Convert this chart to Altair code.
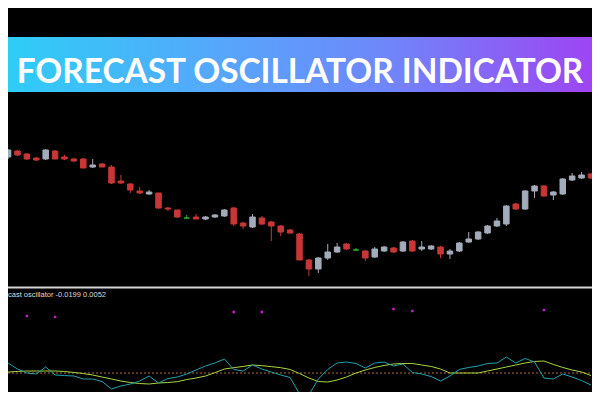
import altair as alt
import pandas as pd

# ---------------- data ----------------
bars = list(range(63))
open_ = [143, 149, 146, 142, 141, 149, 143, 141, 141, 133, 136, 133, 119, 116, 109, 106,
         107, 92, 90, 82, 83, 81, 83, 84, 92, 77, 73, 82, 78, 74, 70, 66,
         40, 31, 42, 48, 56, 50, 49, 43, 49, 52, 49, 59, 51, 51, 53, 46,
         49, 58, 61, 67, 74, 76, 96, 91, 109, 114, 105, 106, 120, 122, 126]
close = [150, 145, 141, 140, 150, 141, 141, 139, 132, 135, 133, 117, 117, 110, 107, 108,
         92, 91, 83, 82, 81, 83, 85, 90, 76, 74, 83, 76, 74, 68, 67, 40,
         31, 42, 48, 53, 51, 50, 42, 51, 53, 48, 58, 49, 53, 54, 46, 49,
         57, 61, 68, 74, 79, 94, 91, 109, 114, 104, 108, 121, 124, 125, 122]
high = [151, 150, 147, 143, 151, 150, 145, 142, 142, 141, 137, 135, 125, 117, 113, 110,
        107, 93, 90, 85, 86, 84, 86, 91, 93, 78, 86, 84, 79, 75, 71, 67,
        41, 43, 56, 57, 57, 52, 50, 53, 54, 53, 59, 60, 59, 55, 54, 51,
        58, 68, 69, 75, 82, 95, 97, 110, 115, 115, 109, 122, 127, 128, 127]
low = [141, 144, 140, 139, 140, 141, 140, 138, 132, 132, 133, 116, 116, 107, 106, 105,
       91, 89, 82, 81, 81, 80, 82, 83, 74, 71, 72, 75, 59, 64, 66, 40,
       24, 27, 40, 47, 50, 49, 39, 42, 48, 47, 48, 48, 49, 50, 42, 41,
       48, 57, 60, 66, 73, 74, 90, 90, 102, 103, 100, 105, 119, 121, 121]

osc_fast = [0.015, 0.006, 0.0, -0.0015, 0.009, -0.003, -0.0038, -0.0045, -0.009, -0.009,
            -0.0128, -0.024, -0.0195, -0.0165, -0.012, -0.0045, -0.015, -0.0083, -0.006,
            -0.0015, 0.0045, 0.0105, 0.015, 0.021, 0.0053, 0.003, 0.012, 0.006, 0.0015,
            -0.003, -0.0068, -0.0315, -0.033, -0.009, 0.0053, 0.015, 0.0165, 0.0143,
            0.0075, 0.015, 0.0165, 0.0105, 0.0135, 0.0008, -0.0015, -0.0053, -0.012,
            -0.0045, 0.0053, 0.0083, 0.0105, 0.0143, 0.015, 0.024, 0.015, 0.0218, 0.0165,
            -0.0075, -0.009, -0.0015, -0.006, -0.0113, -0.018]
osc_signal = [0.0015, 0.0023, 0.003, 0.003, 0.003, 0.003, 0.0023, 0.0008, -0.0008, -0.003,
              -0.006, -0.009, -0.012, -0.0143, -0.0158, -0.0165, -0.015, -0.0143, -0.013,
              -0.0098, -0.0075, -0.0045, 0.0005, 0.006, 0.008, 0.0098, 0.012, 0.011, 0.0095,
              0.008, 0.0053, -0.0008, -0.0075, -0.0128, -0.0135, -0.0105, -0.006, 0.0,
              0.0045, 0.0083, 0.0113, 0.0135, 0.0143, 0.0143, 0.012, 0.0098, 0.006, 0.0,
              0.0, 0.0, 0.0, 0.003, 0.006, 0.009, 0.012, 0.015, 0.0173, 0.018, 0.0128,
              0.0083, 0.0045, 0.0015, -0.0038]
signal_bars = [2, 5, 24, 27, 41, 43, 57]
signal_vals = [0.0855, 0.084, 0.0915, 0.0915, 0.096, 0.093, 0.0945]
zero_level = [0.0]

title_text = "FORECAST OSCILLATOR INDICATOR"
label_text = "cast oscillator -0.0199 0.0052"

# ---------------- tables ----------------
candles = pd.DataFrame({"bar": bars, "open": open_, "high": high, "low": low, "close": close})
candles["dir"] = ["up" if c > o else ("down" if c < o else "flat")
                  for o, c in zip(candles["open"], candles["close"])]
osc = pd.DataFrame({"bar": bars, "fast": osc_fast, "signal": osc_signal})
sig = pd.DataFrame({"bar": signal_bars, "value": signal_vals})
zero = pd.DataFrame({"level": zero_level})
one = pd.DataFrame({"k": [0]})

W, H = 584, 384
x_scale = alt.Scale(domain=[0.5227, 61.579], zero=False, nice=False)
price_scale = alt.Scale(domain=[-92, 292], zero=False, nice=False)
osc_scale = alt.Scale(domain=[-0.0285, 0.5475], zero=False, nice=False)
dir_scale = alt.Scale(domain=["up", "down", "flat"], range=["#a3acba", "#c83636", "#27b52a"])

X = alt.X("bar:Q", scale=x_scale, axis=None)

gradient = alt.LinearGradient(
    gradient="linear",
    stops=[alt.GradientStop(color="#2ecdf6", offset=0),
           alt.GradientStop(color="#55a8fb", offset=0.35),
           alt.GradientStop(color="#6f86fa", offset=0.65),
           alt.GradientStop(color="#9d45f2", offset=1)],
    x1=0, x2=1, y1=0, y2=0)

banner = alt.Chart(one).mark_rect(color=gradient).encode(
    x=alt.value(0), x2=alt.value(W), y=alt.value(29), y2=alt.value(84))
title = alt.Chart(one).mark_text(
    font="Lato", fontWeight="bold", fontSize=33.4, color="white",
    align="center", baseline="alphabetic").encode(
    x=alt.value(292), y=alt.value(75), text=alt.value(title_text))

separator = alt.Chart(one).mark_rule(color="#d4d4d4", strokeWidth=2).encode(
    x=alt.value(0), x2=alt.value(W), y=alt.value(279.5))
label = alt.Chart(one).mark_text(
    font="Liberation Sans", fontSize=7.5, color="#dcdcdc",
    align="left", baseline="alphabetic").encode(
    x=alt.value(0), y=alt.value(289), text=alt.value(label_text))

zero_line = alt.Chart(zero).mark_rule(color="#a86a3c", strokeWidth=1, strokeDash=[2, 2]).encode(
    x=alt.value(0), x2=alt.value(W), y=alt.Y("level:Q", scale=osc_scale, axis=None))

wicks = alt.Chart(candles).mark_rule(strokeWidth=1, clip=True).encode(
    x=X,
    y=alt.Y("high:Q", scale=price_scale, axis=None), y2="low:Q",
    color=alt.Color("dir:N", scale=dir_scale, legend=None))
bodies = alt.Chart(candles).mark_bar(size=5.5, strokeWidth=1, clip=True).encode(
    x=X,
    y=alt.Y("open:Q", scale=price_scale, axis=None), y2="close:Q",
    color=alt.Color("dir:N", scale=dir_scale, legend=None),
    stroke=alt.Stroke("dir:N", scale=dir_scale, legend=None))

signal_line = alt.Chart(osc).mark_line(color="#a9d63e", strokeWidth=1, clip=True).encode(
    x=X, y=alt.Y("signal:Q", scale=osc_scale, axis=None), order="bar:Q")
fast_line = alt.Chart(osc).mark_line(color="#1ea2ad", strokeWidth=1, clip=True).encode(
    x=X, y=alt.Y("fast:Q", scale=osc_scale, axis=None), order="bar:Q")
dots = alt.Chart(sig).mark_square(color="#c81ec8", size=6, opacity=1).encode(
    x=X, y=alt.Y("value:Q", scale=osc_scale, axis=None))

chart = alt.layer(
    banner, title, separator, label, zero_line,
    wicks, bodies, signal_line, fast_line, dots
).resolve_scale(y="independent").properties(
    width=W, height=H, background="#000000", padding=0, autosize="none"
).configure_view(stroke=None)

chart.save("out.html", embed_options={"renderer": "svg", "actions": False})
